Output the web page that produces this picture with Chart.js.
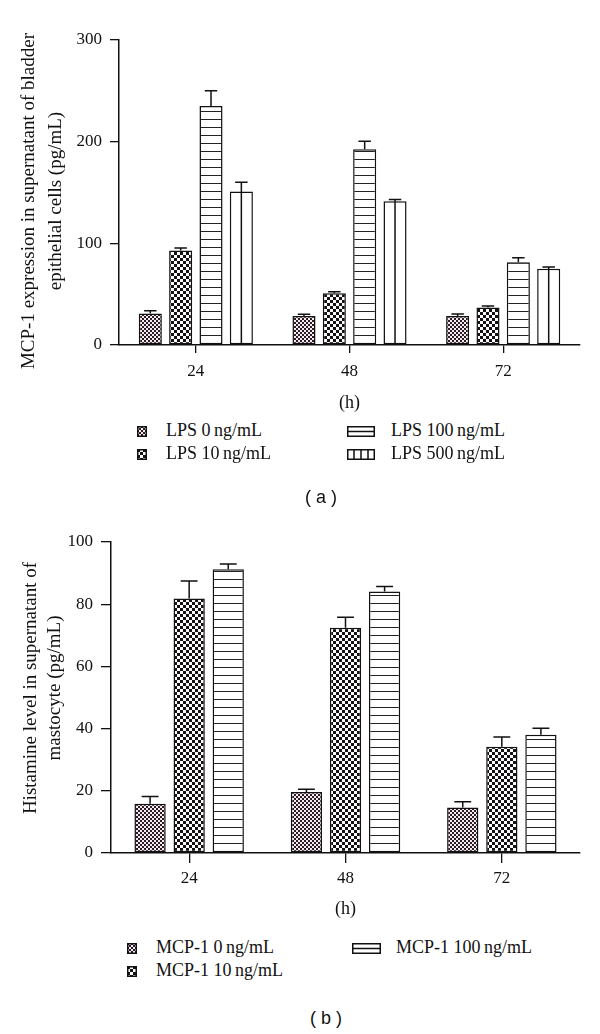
<!DOCTYPE html>
<html>
<head>
<meta charset="utf-8">
<script src="https://cdn.jsdelivr.net/npm/chart.js@4.4.1/dist/chart.umd.min.js"></script>
<style>
  body { margin: 0; width: 600px; height: 1034px; background: #fff; position: relative; overflow: hidden;
         font-family: "Liberation Serif", "DejaVu Serif", serif; color: #111; }
  canvas.chart { position: absolute; left: 0; }
  .lg-text { position: absolute; font-size: 18px; line-height: 20px; white-space: nowrap; }
  .lg-swatch { position: absolute; }
  .panel { position: absolute; font-family: "Liberation Sans", Arial, sans-serif; font-size: 18px;
           transform: translate(-50%, -50%); white-space: pre; }
</style>
</head>
<body>
<canvas id="chart-a" class="chart" width="600" height="420" style="top:0"></canvas>
<canvas id="chart-b" class="chart" width="600" height="430" style="top:500px"></canvas>
<div class="panel" style="left:321px;top:497px">( a )</div>
<div class="panel" style="left:326px;top:1018px">( b )</div>

<script>
// Hours after treatment (x categories, both panels)
const HOURS = ["24", "48", "72"];

// (a) MCP-1 in supernatant of bladder epithelial cells, pg/mL
const LPS_LABELS = ["LPS 0\u2009ng/mL", "LPS 10\u2009ng/mL", "LPS 100\u2009ng/mL", "LPS 500\u2009ng/mL"];
const LPS_0       = [31, 28.5, 28.5];
const LPS_10      = [93, 51, 37];
const LPS_100     = [235, 192.5, 81.5];
const LPS_500     = [151, 141.3, 75];
const LPS_0_ERR   = [2.6, 1.7, 2];
const LPS_10_ERR  = [2.3, 1.3, 1.3];
const LPS_100_ERR = [15, 8, 4.3];
const LPS_500_ERR = [9, 1.7, 1.6];
const A_TICKS = [0, 100, 200, 300];
const A_TITLE = ["MCP-1 expression in supernatant of bladder", "epithelial cells (pg/mL)"];

// (b) histamine in supernatant of mastocyte, pg/mL
const MCP_LABELS = ["MCP-1 0\u2009ng/mL", "MCP-1 10\u2009ng/mL", "MCP-1 100\u2009ng/mL"];
const MCP_0       = [15.8, 19.6, 14.6];
const MCP_10      = [81.8, 72.4, 34.2];
const MCP_100     = [91.2, 84.1, 38];
const MCP_0_ERR   = [2.4, 0.9, 1.9];
const MCP_10_ERR  = [5.7, 3.4, 3.1];
const MCP_100_ERR = [1.7, 1.6, 2.1];
const B_TICKS = [0, 20, 40, 60, 80, 100];
const B_TITLE = ["Histamine level in supernatant of", "mastocyte (pg/mL)"];

const X_TITLE = "(h)";
const SERIF = "'Liberation Serif', 'DejaVu Serif', serif";

// ── fill patterns (greyscale print style) ────────────────────────────────────
function makePattern(kind) {
  const c = document.createElement("canvas");
  const g = c.getContext("2d");
  if (kind === "fine") {            // dense checker, slight purple cast
    c.width = 4; c.height = 4;
    g.fillStyle = "#f3ecf0"; g.fillRect(0, 0, 4, 4);
    g.fillStyle = "#2c1a24"; g.fillRect(0, 0, 2, 2); g.fillRect(2, 2, 2, 2);
  } else if (kind === "coarse") {   // bolder black/white checker
    c.width = 6; c.height = 6;
    g.fillStyle = "#fdfdfd"; g.fillRect(0, 0, 6, 6);
    g.fillStyle = "#141014"; g.fillRect(0, 0, 3, 3); g.fillRect(3, 3, 3, 3);
  } else if (kind === "hlines") {
    c.width = 8; c.height = 8;
    g.fillStyle = "#fff"; g.fillRect(0, 0, 8, 8);
    g.fillStyle = "#222"; g.fillRect(0, 7, 8, 1.3);
  } else {
    c.width = 4; c.height = 4;
    g.fillStyle = "#fff"; g.fillRect(0, 0, 4, 4);
  }
  return g.createPattern(c, "repeat");
}

// ── error bars (mean + SD, upward only) and centre line for the striped bars ─
const errorBars = {
  id: "errorBars",
  afterDatasetsDraw(chart) {
    const { ctx } = chart;
    const y = chart.scales.y;
    ctx.save();
    ctx.strokeStyle = "#111";
    ctx.lineWidth = 1.5;
    chart.data.datasets.forEach((ds, i) => {
      chart.getDatasetMeta(i).data.forEach((bar, j) => {
        const top = y.getPixelForValue(ds.data[j] + ds.errors[j]);
        const half = bar.width * 0.27;
        ctx.beginPath();
        if (ds.midLine) {
          ctx.moveTo(bar.x, bar.base);
        } else {
          ctx.moveTo(bar.x, bar.y);
        }
        ctx.lineTo(bar.x, top);
        ctx.moveTo(bar.x - half, top);
        ctx.lineTo(bar.x + half, top);
        ctx.stroke();
      });
    });
    ctx.restore();
  },
};

// rotated two-line y title
const yTitle = {
  id: "yTitle",
  afterDraw(chart, args, opts) {
    const { ctx } = chart;
    ctx.save();
    ctx.font = "19px " + SERIF;
    ctx.fillStyle = "#111";
    ctx.textAlign = "center";
    ctx.textBaseline = "middle";
    opts.lines.forEach((line, i) => {
      ctx.save();
      ctx.translate(opts.x[i], opts.cy);
      ctx.rotate(-Math.PI / 2);
      ctx.fillText(line, 0, 0);
      ctx.restore();
    });
    ctx.restore();
  },
};

function barSet(label, data, errors, fill, extra) {
  return Object.assign({
    label, data, errors,
    backgroundColor: fill,
    borderColor: "#111",
    borderWidth: 1.5,
    borderSkipped: false,
  }, extra || {});
}

function buildChart(id, cfg) {
  const ticks = cfg.ticks;
  return new Chart(document.getElementById(id), {
    type: "bar",
    data: { labels: HOURS, datasets: cfg.datasets },
    plugins: [errorBars, yTitle],
    options: {
      responsive: false,
      animation: false,
      layout: { padding: { top: cfg.top, right: 20, left: 0, bottom: 0 } },
      datasets: { bar: { categoryPercentage: cfg.catPct, barPercentage: cfg.barPct } },
      plugins: {
        legend: { display: false },
        tooltip: { enabled: false },
        yTitle: { lines: cfg.title, x: cfg.titleX, cy: cfg.titleY },
      },
      scales: {
        x: {
          afterFit: s => { s.height = cfg.xHeight; },
          grid: { offset: false, drawOnChartArea: false, color: "#111", tickLength: cfg.xTick, lineWidth: 1.3 },
          border: { color: "#111", width: 1.5 },
          ticks: { color: "#111", padding: cfg.xPad, font: { family: SERIF, size: 17 } },
          title: { display: true, text: X_TITLE, color: "#111", padding: { top: 0, bottom: cfg.hPad },
                   font: { family: SERIF, size: 18 } },
        },
        y: {
          min: ticks[0],
          max: ticks[ticks.length - 1],
          afterFit: s => { s.width = cfg.yWidth; },
          grid: { drawOnChartArea: false, color: "#111", tickLength: cfg.yTick, lineWidth: 1.3 },
          border: { color: "#111", width: 1.5 },
          ticks: { stepSize: ticks[1] - ticks[0], color: "#111", padding: 8, font: { family: SERIF, size: 17 } },
        },
      },
    },
  });
}

const FINE = makePattern("fine");
const COARSE = makePattern("coarse");
const HLINES = makePattern("hlines");
const PLAIN = makePattern("plain");

buildChart("chart-a", {
  datasets: [
    barSet(LPS_LABELS[0], LPS_0, LPS_0_ERR, FINE),
    barSet(LPS_LABELS[1], LPS_10, LPS_10_ERR, COARSE),
    barSet(LPS_LABELS[2], LPS_100, LPS_100_ERR, HLINES),
    barSet(LPS_LABELS[3], LPS_500, LPS_500_ERR, PLAIN, { midLine: true }),
  ],
  ticks: A_TICKS, title: A_TITLE, titleX: [29, 56], titleY: 201,
  top: 40, yWidth: 119, xHeight: 75, xTick: 8, xPad: 8, hPad: 6, yTick: 9,
  catPct: 0.79, barPct: 0.76,
});

buildChart("chart-b", {
  datasets: [
    barSet(MCP_LABELS[0], MCP_0, MCP_0_ERR, FINE),
    barSet(MCP_LABELS[1], MCP_10, MCP_10_ERR, COARSE),
    barSet(MCP_LABELS[2], MCP_100, MCP_100_ERR, HLINES),
  ],
  ticks: B_TICKS, title: B_TITLE, titleX: [31, 55], titleY: 188,
  top: 42, yWidth: 111, xHeight: 77, xTick: 10, xPad: 5, hPad: 10, yTick: 10,
  catPct: 0.75, barPct: 0.8,
});

// ── legends (HTML, swatches drawn with the same fills) ───────────────────────
function swatch(kind, x, cy, w, h) {
  const c = document.createElement("canvas");
  c.width = w; c.height = h;
  c.className = "lg-swatch";
  c.style.left = x + "px";
  c.style.top = (cy - h / 2) + "px";
  const g = c.getContext("2d");
  g.fillStyle = kind === "fine" ? FINE : kind === "coarse" ? COARSE : "#fff";
  g.fillRect(0, 0, w, h);
  g.strokeStyle = "#111";
  g.lineWidth = 1.5;
  g.strokeRect(0.75, 0.75, w - 1.5, h - 1.5);
  g.beginPath();
  if (kind === "hlines") {
    g.moveTo(0, h / 2); g.lineTo(w, h / 2);
  } else if (kind === "vlines") {
    for (let k = 1; k < 4; k++) { g.moveTo(w * k / 4, 0); g.lineTo(w * k / 4, h); }
  }
  g.stroke();
  document.body.appendChild(c);
}

function legendItem(label, kind, sx, sw, tx, cy) {
  swatch(kind, sx, cy, sw, 11);
  const t = document.createElement("div");
  t.className = "lg-text";
  t.style.left = tx + "px";
  t.style.top = (cy - 11) + "px";
  t.textContent = label;
  document.body.appendChild(t);
}

legendItem(LPS_LABELS[0], "fine",   137, 10, 166, 431);
legendItem(LPS_LABELS[1], "coarse", 137, 10, 166, 454);
legendItem(LPS_LABELS[2], "hlines", 347, 28, 391, 431);
legendItem(LPS_LABELS[3], "vlines", 347, 28, 391, 454);

legendItem(MCP_LABELS[0], "fine",   127, 10, 156, 948);
legendItem(MCP_LABELS[1], "coarse", 127, 10, 156, 971);
legendItem(MCP_LABELS[2], "hlines", 352, 29, 396, 948);
</script>
</body>
</html>
